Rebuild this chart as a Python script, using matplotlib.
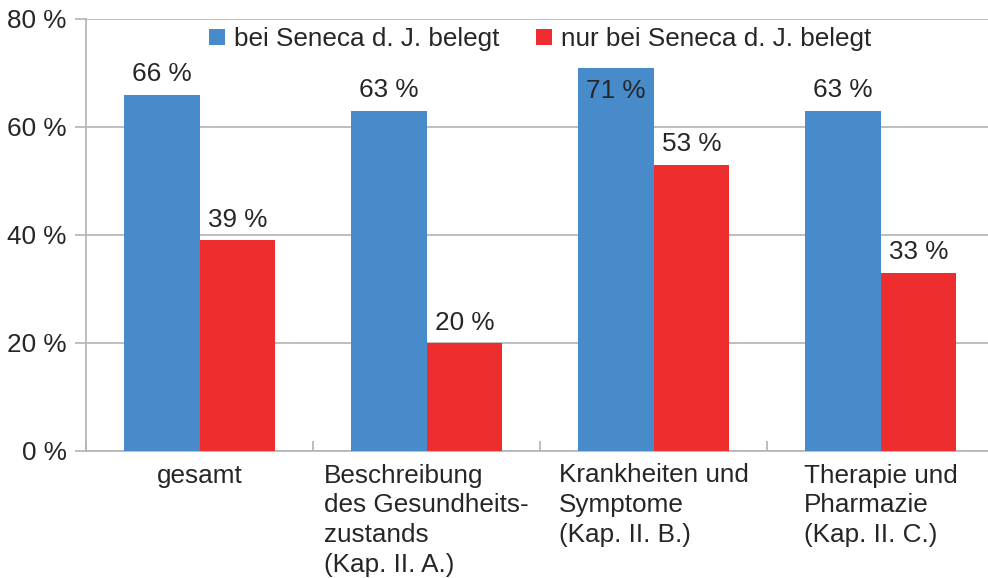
import numpy as np
import matplotlib
matplotlib.use("Agg")
import matplotlib.pyplot as plt

plt.rcParams['font.family'] = ['Liberation Sans', 'DejaVu Sans']

categories = ["gesamt",
              "Beschreibung\ndes Gesundheits-\nzustands\n(Kap. II. A.)",
              "Krankheiten und\nSymptome\n(Kap. II. B.)",
              "Therapie und\nPharmazie\n(Kap. II. C.)"]
series_names = ["bei Seneca d. J. belegt", "nur bei Seneca d. J. belegt"]
belegt = [66, 63, 71, 63]
nur_belegt = [39, 20, 53, 33]
y_ticks = [0, 20, 40, 60, 80]

blue = '#478bcb'
red = '#ee2e2e'
txt = '#262626'
grid_c = '#b3b3b3'
fs = 18.8

W, H = 988, 578
fig = plt.figure(figsize=(W / 100, H / 100), dpi=100)
ax = fig.add_axes([86 / W, (H - 451) / H, 908 / W, (451 - 19) / H])

x = np.arange(len(categories))
bw = 1 / 3
b1 = ax.bar(x - bw / 2, belegt, bw, color=blue, label=series_names[0], zorder=3)
b2 = ax.bar(x + bw / 2, nur_belegt, bw, color=red, label=series_names[1], zorder=3)

# data labels above the bars (inside near the top if too close to the legend)
for bars, vals in ((b1, belegt), (b2, nur_belegt)):
    for rect, v in zip(bars, vals):
        cx = rect.get_x() + rect.get_width() / 2
        if v > 68:
            ax.annotate(f"{v} %", (cx, v), xytext=(0, -8), textcoords='offset points',
                        ha='center', va='top', fontsize=fs, color=txt, zorder=4)
        else:
            ax.annotate(f"{v} %", (cx, v), xytext=(0, 6), textcoords='offset points',
                        ha='center', va='bottom', fontsize=fs, color=txt, zorder=4)

ax.set_xlim(-0.5, len(categories) - 0.5)
ax.set_ylim(0, 80)
ax.set_yticks(y_ticks)
ax.set_yticklabels([f"{t} %" for t in y_ticks])
ax.yaxis.grid(True, color=grid_c, linewidth=1.2, zorder=0)
ax.tick_params(axis='y', length=8, width=1.2, color=grid_c, pad=6, labelsize=fs, labelcolor=txt)

ax.set_xticks(x)
ax.set_xticklabels([])
ax.tick_params(axis='x', length=0)
ax.set_xticks(np.arange(len(categories) + 1) - 0.5, minor=True)
ax.tick_params(axis='x', which='minor', direction='in', length=7, width=1.2, color=grid_c)

for xi, lab in zip(x, categories):
    ax.annotate(lab, (xi, 0), xytext=(0, -9), textcoords='offset points',
                ha='center', va='top', multialignment='left', fontsize=fs,
                color=txt, linespacing=1.3, annotation_clip=False)

for s in ('top', 'right'):
    ax.spines[s].set_visible(False)
for s in ('left', 'bottom'):
    ax.spines[s].set_color(grid_c)
    ax.spines[s].set_linewidth(1.2)

leg = ax.legend(loc='upper center', bbox_to_anchor=(0.5, 1.035), ncol=2, frameon=False,
                fontsize=fs, handlelength=0.6, handleheight=0.6, handletextpad=0.35,
                columnspacing=1.4, labelcolor=txt)

fig.savefig("out.png", dpi=100)
